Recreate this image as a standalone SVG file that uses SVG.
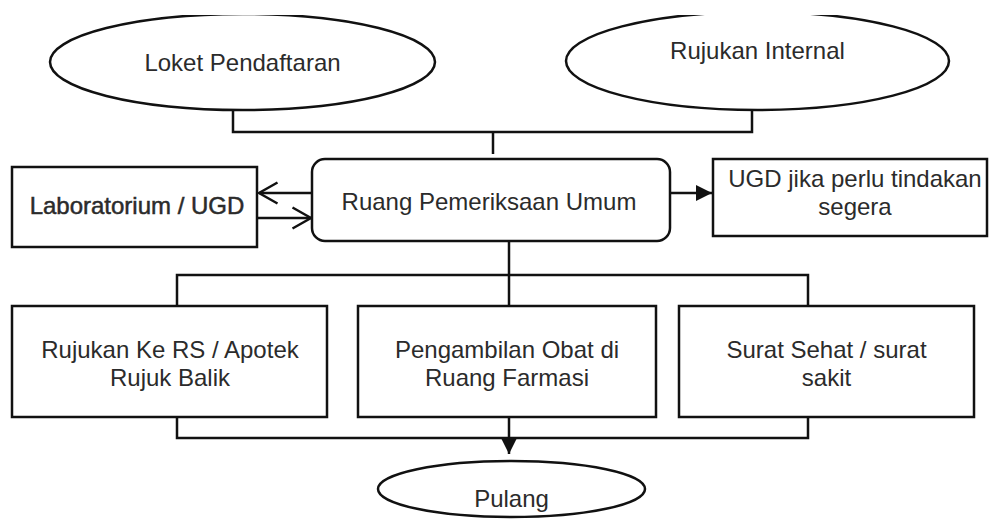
<svg xmlns="http://www.w3.org/2000/svg" width="989" height="519" viewBox="0 0 989 519">
  <style>
    .shape { fill: #ffffff; stroke: #111111; stroke-width: 2.5; }
    .conn { fill: none; stroke: #111111; stroke-width: 2.5; }
    .label { font-family: "Liberation Sans", Arial, sans-serif; font-size: 24px; fill: #2b2b2b; text-anchor: middle; }
    .heavy { stroke: #2b2b2b; stroke-width: 0.5; }
  </style>
  <defs>
    <clipPath id="topClip">
      <rect x="0" y="15" width="989" height="504"/>
    </clipPath>
    <marker id="openArrow" markerUnits="userSpaceOnUse" viewBox="0 0 22 24" refX="20" refY="12" markerWidth="22" markerHeight="24" orient="auto">
      <path d="M1.5,1.5 L20,12 L1.5,22.5" fill="none" stroke="#111111" stroke-width="2.5"/>
    </marker>
    <marker id="filledArrow" markerUnits="userSpaceOnUse" viewBox="0 0 16 16" refX="16" refY="8" markerWidth="16" markerHeight="16" orient="auto">
      <path d="M0,0 L16,8 L0,16 z" fill="#111111"/>
    </marker>
  </defs>

  <g id="connectors">
    <path class="conn" d="M233,110 V132 H752 V110"/>
    <path class="conn" d="M493,132 V154"/>
    <path class="conn" d="M312,193 H259" marker-end="url(#openArrow)"/>
    <path class="conn" d="M257,218 H311" marker-end="url(#openArrow)"/>
    <path class="conn" d="M670,193 H712" marker-end="url(#filledArrow)"/>
    <path class="conn" d="M509,241 V306"/>
    <path class="conn" d="M177,306 V275 H808 V306"/>
    <path class="conn" d="M177,417 V438 H808 V417"/>
    <path class="conn" d="M509,417 V454" marker-end="url(#filledArrow)"/>
  </g>

  <g id="loket" clip-path="url(#topClip)">
    <ellipse class="shape" cx="242.5" cy="62" rx="192.5" ry="48"/>
    <text class="label" x="242.5" y="71">Loket Pendaftaran</text>
  </g>

  <g id="rujukan-internal" clip-path="url(#topClip)">
    <ellipse class="shape" cx="757.5" cy="61" rx="191.5" ry="49"/>
    <text class="label" x="757.5" y="59">Rujukan Internal</text>
  </g>

  <g id="laboratorium">
    <rect class="shape" x="12" y="167" width="245" height="80"/>
    <text class="label heavy" x="137" y="214">Laboratorium / UGD</text>
  </g>

  <g id="ruang-pemeriksaan">
    <rect class="shape" x="312" y="159" width="358" height="82" rx="13" ry="13"/>
    <text class="label" x="489" y="210">Ruang Pemeriksaan Umum</text>
  </g>

  <g id="ugd">
    <rect class="shape" x="713" y="159" width="274" height="77"/>
    <text class="label" x="855" y="187">UGD jika perlu tindakan</text>
    <text class="label" x="855" y="215">segera</text>
  </g>

  <g id="rujukan-rs">
    <rect class="shape" x="12" y="306" width="315" height="111"/>
    <text class="label" x="170" y="358">Rujukan Ke RS / Apotek</text>
    <text class="label" x="170" y="386">Rujuk Balik</text>
  </g>

  <g id="pengambilan-obat">
    <rect class="shape" x="358" y="306" width="298" height="111"/>
    <text class="label" x="507" y="358">Pengambilan Obat di</text>
    <text class="label" x="507" y="386">Ruang Farmasi</text>
  </g>

  <g id="surat-sehat">
    <rect class="shape" x="679" y="306" width="295" height="111"/>
    <text class="label" x="826.5" y="358">Surat Sehat / surat</text>
    <text class="label" x="826.5" y="386">sakit</text>
  </g>

  <g id="pulang">
    <ellipse class="shape" cx="511.5" cy="489" rx="133.5" ry="28"/>
    <text class="label" x="511.5" y="507">Pulang</text>
  </g>
</svg>
